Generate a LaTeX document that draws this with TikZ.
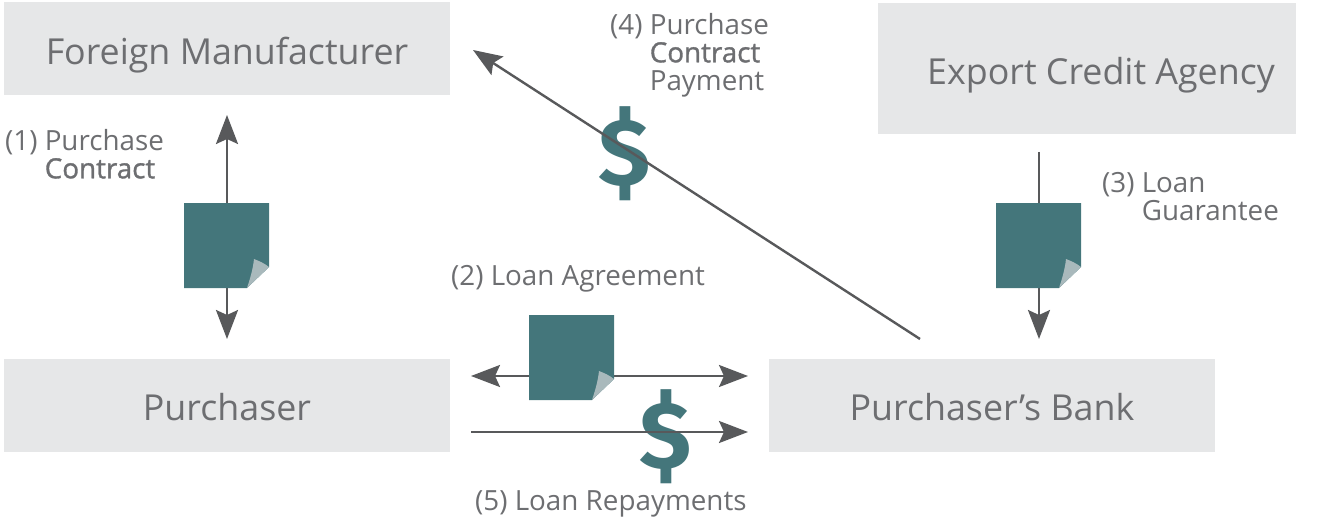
\documentclass[tikz,border=0pt]{standalone}
\usepackage{fontspec}
\setmainfont{Open Sans}
\newfontfamily\dollarfont{Fira Sans}
\usetikzlibrary{arrows.meta}
\definecolor{boxgray}{HTML}{E6E7E8}
\definecolor{textgray}{HTML}{6D6E71}
\definecolor{linegray}{HTML}{58595B}
\definecolor{noteteal}{HTML}{44767B}
\definecolor{foldgray}{HTML}{A9B9BC}
\newcommand{\semibold}[1]{{\addfontfeature{FakeBold=1.2}#1}}
\tikzstyle{party} = [fill=boxgray, text=textgray, font=\fontsize{35.8}{36}\selectfont, inner sep=0pt, text height=30.5pt, text depth=0pt]
\tikzstyle{caption} = [text=textgray, font=\fontsize{27.8}{28}\selectfont, align=left, anchor=north west, inner sep=0pt]
\tikzstyle{line} = [draw=linegray, line width=2.4pt]
\tikzstyle{tip} = [-{Stealth[length=29pt,width=22pt,inset=5pt]}]
\tikzstyle{bitip} = [{Stealth[length=29pt,width=22pt,inset=5pt]}-{Stealth[length=29pt,width=22pt,inset=5pt]}]
\tikzstyle{dollar} = [text=noteteal, font=\dollarfont\fontsize{95}{95}\selectfont\bfseries, inner sep=0pt]
\tikzset{
  notepage/.pic={
    \fill[noteteal] (0,0) -- (85,0) -- (85,64) -- (63,85) -- (0,85) -- cycle;
    \fill[foldgray] (85,64) .. controls (80,60) and (75,58) .. (70,56) .. controls (69,66) and (66,76) .. (63,85) -- cycle;
  }
}
\begin{document}
\begin{tikzpicture}[x=1pt,y=-1pt]
		\useasboundingbox (0,0) rectangle (1326,524);
		%parties
		\node[party, minimum width=446pt, minimum height=93pt] (foreign) at (227,49) {Foreign Manufacturer};
		\node[party, minimum width=418pt, minimum height=131pt] (agency) at (1087,69) {\hspace*{28pt}Export Credit Agency};
		\node[party, minimum width=446pt, minimum height=93pt] (purchaser) at (227,405) {Purchaser};
		\node[party, minimum width=446pt, minimum height=93pt] (bank) at (992,405) {Purchaser's Bank};
		%free ends
		\coordinate (contract top) at (227,115);
		\coordinate (contract bottom) at (227,339);
		\coordinate (guarantee top) at (1039,152);
		\coordinate (guarantee bottom) at (1039,339);
		\coordinate (loan left) at (471,376);
		\coordinate (loan right) at (748,376);
		\coordinate (repay left) at (471,432);
		\coordinate (repay right) at (748,432);
		\coordinate (pay start) at (920,339);
		\coordinate (pay end) at (473,50);
		%arrows under the notes
		\draw[line, bitip] (contract top) -- (contract bottom);
		\draw[line, tip] (guarantee top) -- (guarantee bottom);
		\draw[line, bitip] (loan left) -- (loan right);
		%notes
		\pic at (184,203) {notepage};
		\pic at (996,203) {notepage};
		\pic at (529,315) {notepage};
		%dollars
		\node[dollar] (dollar pay) at (625,154) {\$};
		\node[dollar] (dollar repay) at (666,437) {\$};
		%arrows over the dollars
		\draw[line, tip] (pay start) -- (pay end);
		\draw[line, tip] (repay left) -- (repay right);
		%labels
		\node[caption] (label one) at (5,129) {(1) Purchase\\\phantom{(1) }\semibold{Contract}};
		\node[caption] (label two) at (451,265) {(2) Loan Agreement};
		\node[caption] (label three) at (1102,172) {(3) Loan\\\phantom{(3) }Guarantee};
		\node[caption] (label four) at (610,13) {(4) Purchase\\\phantom{(4) }\semibold{Contract}\\\phantom{(4) }Payment};
		\node[caption] (label five) at (475,490) {(5) Loan Repayments};
\end{tikzpicture}
\end{document}
